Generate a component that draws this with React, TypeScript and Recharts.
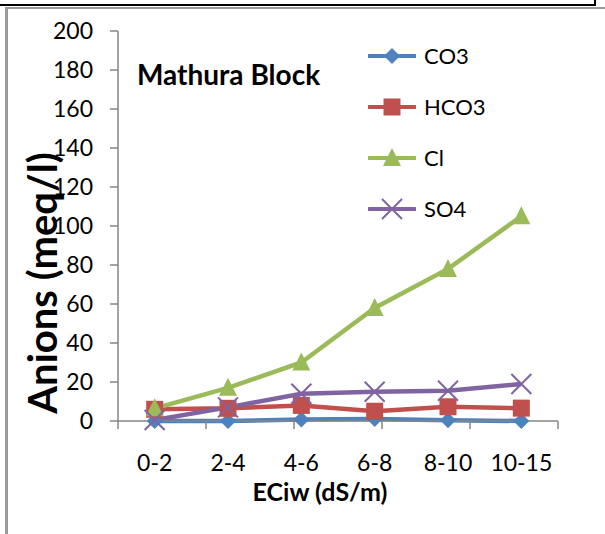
import React from 'react';
import { LineChart, Line, XAxis, YAxis, Legend } from 'recharts';

// EC classes of irrigation water and anion contents (meq/l)
const categories = ['0-2', '2-4', '4-6', '6-8', '8-10', '10-15'];
const co3 = [0, 0, 0.8, 1, 0.4, 0];
const hco3 = [6, 6.5, 8, 5, 7.3, 6.6];
const cl = [6.5, 17, 30, 58, 78, 105];
const so4 = [0.5, 7, 14, 15, 15.5, 19];

const yTicks = [0, 20, 40, 60, 80, 100, 120, 140, 160, 180, 200];
const bandEdges = [0, 1, 2, 3, 4, 5, 6];

const data = categories.map((range, i) => ({
  range,
  CO3: co3[i],
  HCO3: hco3[i],
  Cl: cl[i],
  SO4: so4[i],
}));

const FONT = 'Lato, "Open Sans", sans-serif';
const AXIS_GREY = '#868686';

type MarkerProps = { cx: number; cy: number; color: string };

const Diamond = ({ cx, cy, color }: MarkerProps) => (
  <path d={`M${cx},${cy - 8}L${cx + 8},${cy}L${cx},${cy + 8}L${cx - 8},${cy}Z`} fill={color} />
);
const Square = ({ cx, cy, color }: MarkerProps) => (
  <rect x={cx - 8.5} y={cy - 8.5} width={17} height={17} fill={color} />
);
const Triangle = ({ cx, cy, color }: MarkerProps) => (
  <path d={`M${cx},${cy - 10}L${cx + 9},${cy + 8}L${cx - 9},${cy + 8}Z`} fill={color} />
);
const Cross = ({ cx, cy, color }: MarkerProps) => (
  <path
    d={`M${cx - 10},${cy - 10}L${cx + 10},${cy + 10}M${cx - 10},${cy + 10}L${cx + 10},${cy - 10}`}
    stroke={color}
    strokeWidth={2}
    fill="none"
  />
);

const series = [
  { key: 'CO3', color: '#4F81BD', Marker: Diamond },
  { key: 'HCO3', color: '#C0504D', Marker: Square },
  { key: 'Cl', color: '#9BBB59', Marker: Triangle },
  { key: 'SO4', color: '#8064A2', Marker: Cross },
];

const renderLegend = () => (
  <div style={{ fontFamily: FONT, fontSize: 22, color: '#000' }}>
    {series.map(({ key, color, Marker }) => (
      <div key={key} style={{ display: 'flex', alignItems: 'center', height: 51 }}>
        <svg width={48} height={24} style={{ marginRight: 8 }}>
          <line x1={1} y1={12} x2={47} y2={12} stroke={color} strokeWidth={4} strokeLinecap="round" />
          <Marker cx={24} cy={12} color={color} />
        </svg>
        <span>{key}</span>
      </div>
    ))}
  </div>
);

const YTitle = (props: any) => {
  const vb = props.viewBox || {};
  const cx = 42;
  const cy = (vb.y ?? 31) + (vb.height ?? 390) / 2 + 57;
  return (
    <text
      x={cx}
      y={cy}
      transform={`rotate(-90 ${cx} ${cy})`}
      textAnchor="middle"
      dominantBaseline="central"
      fontWeight="bold"
      fontSize={40}
      fill="#000"
    >
      Anions (meq/l)
    </text>
  );
};

export default function App() {
  return (
    <div
      style={{
        position: 'fixed',
        left: 0,
        top: 0,
        width: 605,
        height: 534,
        background: '#fff',
        fontFamily: FONT,
        overflow: 'hidden',
      }}
    >
      {/* frame fragments */}
      <div style={{ position: 'absolute', left: 0, top: 4, width: 596, height: 2, background: '#000' }} />
      <div style={{ position: 'absolute', left: 594, top: 0, width: 2, height: 6, background: '#000' }} />
      <div style={{ position: 'absolute', left: 5, top: 7, width: 600, height: 2, background: '#9a9a9a' }} />
      <div style={{ position: 'absolute', left: 5, top: 8, width: 3, height: 526, background: '#9a9a9a' }} />

      <div
        style={{
          position: 'absolute',
          left: 137,
          top: 57,
          fontSize: 28,
          fontWeight: 'bold',
          color: '#000',
          zIndex: 2,
        }}
      >
        Mathura Block
      </div>

      <LineChart width={605} height={534} data={data} margin={{ top: 31, right: 47, bottom: 33, left: 0 }}>
        <XAxis
          xAxisId="a_edges"
          type="number"
          domain={[0, 6]}
          ticks={bandEdges}
          allowDataOverflow
          height={8}
          tickSize={8}
          tickFormatter={() => ''}
          stroke={AXIS_GREY}
          axisLine={{ stroke: AXIS_GREY, strokeWidth: 1.5 }}
          tickLine={{ stroke: AXIS_GREY, strokeWidth: 1.5 }}
        />
        <XAxis
          xAxisId="b_cat"
          dataKey="range"
          scale="band"
          height={72}
          axisLine={false}
          tickLine={false}
          tickSize={0}
          tickMargin={26}
          interval={0}
          tick={{ fill: '#000', fontSize: 23 }}
          label={{
            value: 'ECiw (dS/m)',
            position: 'insideBottom',
            offset: 0,
            dx: -18,
            fill: '#000',
            fontSize: 25,
            fontWeight: 'bold',
          }}
        />
        <YAxis
          domain={[0, 200]}
          ticks={yTicks}
          width={118}
          tickSize={8}
          tickMargin={17}
          interval={0}
          tick={{ fill: '#000', fontSize: 23 }}
          axisLine={{ stroke: AXIS_GREY, strokeWidth: 1.5 }}
          tickLine={{ stroke: AXIS_GREY, strokeWidth: 1.5 }}
          label={<YTitle />}
        />
        <Legend
          layout="vertical"
          align="center"
          verticalAlign="middle"
          content={renderLegend}
          wrapperStyle={{ left: 368, top: 30, width: 160 }}
        />
        {series.map(({ key, color, Marker }) => (
          <Line
            key={key}
            xAxisId="b_cat"
            dataKey={key}
            stroke={color}
            strokeWidth={4.5}
            isAnimationActive={false}
            dot={(p: any) => <Marker key={`${key}-${p.index}`} cx={p.cx} cy={p.cy} color={color} />}
            activeDot={false}
          />
        ))}
      </LineChart>
    </div>
  );
}
